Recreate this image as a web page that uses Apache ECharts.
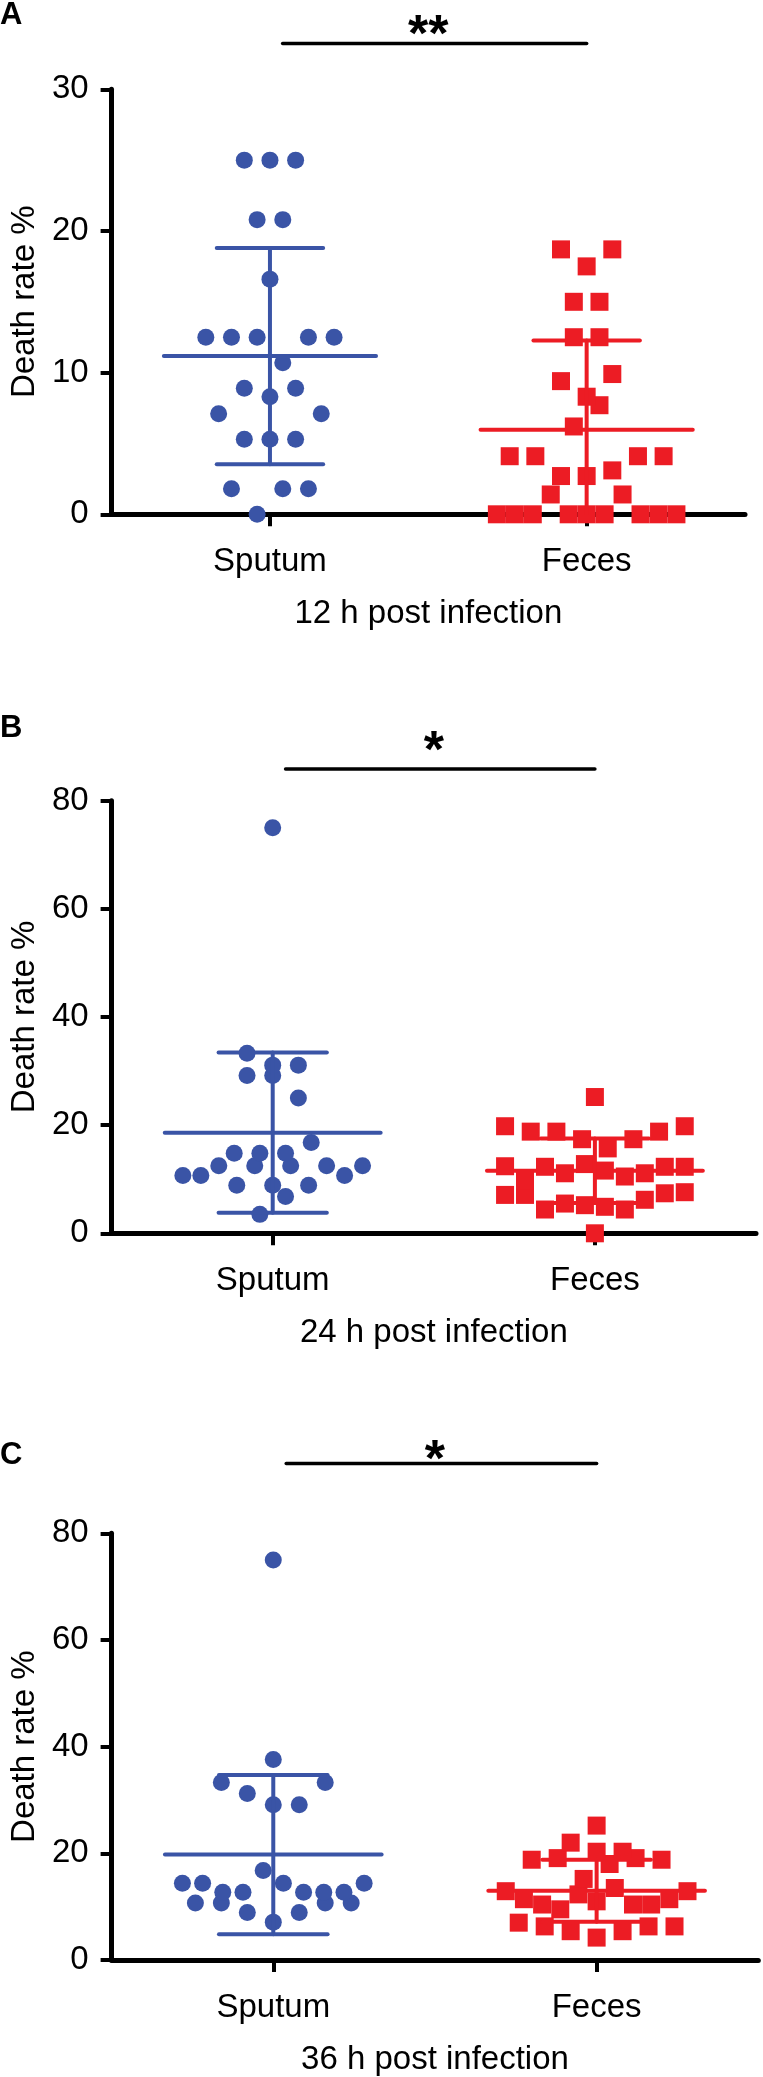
<!DOCTYPE html>
<html>
<head>
<meta charset="utf-8">
<script src="https://cdn.jsdelivr.net/npm/echarts@6/dist/echarts.min.js"></script>
<style>
html,body{margin:0;padding:0;background:#ffffff;}
#chart{width:763px;height:2077px;}
</style>
</head>
<body>
<div id="chart"></div>
<script>
// ---------------- DATA ----------------
const categories = ['Sputum', 'Feces'];
const panelLetters = ['A', 'B', 'C'];
const timeLabels = ['12 h post infection', '24 h post infection', '36 h post infection'];
const significance = ['**', '*', '*'];
const yAxisName = 'Death rate %';
const yMaxValues = [30, 80, 80];
const yIntervals = [10, 20, 20];

// Death rate % per sample (order inside each row = left-to-right in the dot plot)
const sputum12h = [25, 25, 25, 20.8, 20.8, 16.6, 12.5, 12.5, 12.5, 10.7, 12.5, 12.5,
  8.9, 8.3, 8.9, 7.1, 5.3, 5.3, 5.3, 7.1, 1.8, 0, 1.8, 1.8];
const feces12h = [18.7, 17.5, 18.7, 15, 15, 12.5, 12.5, 9.4, 8.3, 9.9, 6.2, 7.7,
  4.1, 4.1, 2.7, 2.7, 3.1, 4.1, 4.1, 0, 0, 0, 1.4, 0, 0, 0, 1.4, 0, 0, 0];

const sputum24h = [75, 29.2, 33.3, 31.1, 31.1, 29.2, 25, 14.8, 14.8, 14.8, 16.8,
  10.7, 10.7, 12.5, 8.9, 12.5, 8.9, 12.5, 8.9, 12.5, 10.7, 12.5, 3.5, 6.8];
const feces24h = [25.2, 19.8, 18.8, 18.8, 17.4, 15.7, 17.4, 18.8, 19.8,
  12.4, 9.7, 12.3, 11.1, 12.8, 11.6, 10.5, 11.1, 12.3, 12.3,
  7.1, 7.1, 4.4, 5.5, 5.2, 4.9, 4.4, 6.2, 7.4, 7.6, 0];

const sputum36h = [75, 37.6, 33.3, 31.2, 29.1, 29.1, 33.3,
  14.4, 14.4, 12.7, 12.7, 16.8, 14.4, 12.7, 12.7, 12.7, 14.4,
  10.7, 10.7, 8.9, 7.1, 8.9, 10.7, 10.7];
const feces36h = [25.2, 22.0, 20.3, 20.3, 18.8, 19.1, 15.2, 18.0, 19.1, 18.8,
  12.9, 11.4, 10.4, 9.5, 12.3, 11.0, 13.5, 10.4, 10.4, 11.4, 12.9,
  7.0, 6.3, 5.4, 4.2, 5.4, 6.3, 6.3];

const panelData = [[sputum12h, feces12h], [sputum24h, feces24h], [sputum36h, feces36h]];

// ---------------- LAYOUT / STYLE ----------------
const BLUE = '#3a54a6';
const RED = '#ec1c24';
const FONT = "'Liberation Sans', Arial, Helvetica, sans-serif";
const grids = [
  { left: 103, top: 89.3, right: 18, height: 425 },
  { left: 103.3, top: 800.7, right: 7, height: 432.6 },
  { left: 110.7, top: 1533.3, right: 4.7, height: 429 }
];
const binPx = [27, 23, 23];      // row height for the dot-plot layout (px)
const pitchPx = 26;              // horizontal spacing of dots (px)
const maxHalfSlots = 3.5;        // widest row, in dot pitches from centre
const meanHalf = 0.335, capHalf = 0.168; // in category-spacing units
const sigLine = [ {y: 43.6, starY: 37}, {y: 769, starY: 753}, {y: 1463.6, starY: 1462} ];
const letterTop = [0, 713, 1440];

// ---------------- helpers ----------------
function mean(a) { return a.reduce((s, v) => s + v, 0) / a.length; }
function sd(a) { const m = mean(a); return Math.sqrt(a.reduce((s, v) => s + (v - m) * (v - m), 0) / (a.length - 1)); }

// Prism-like scatter dot layout: bins rows bottom-up, spreads members by array order
function dotLayout(values, centre, yMax, gridH, gridW, bin) {
  const binH = bin * yMax / gridH;
  const pitch = pitchPx / (gridW / 2);
  const order = values.map((v, i) => i).sort((a, b) => values[a] - values[b] || a - b);
  const bins = [];
  let cur = null;
  order.forEach(i => {
    if (!cur || values[i] - cur.start > binH + 1e-9) { cur = { start: values[i], members: [] }; bins.push(cur); }
    cur.members.push(i);
  });
  const pts = [];
  bins.forEach(b => {
    const m = b.members.slice().sort((x, y) => x - y);
    const n = m.length;
    let step = 1;
    if ((n - 1) / 2 > maxHalfSlots) step = 2 * maxHalfSlots / (n - 1);
    m.forEach((i, k) => pts.push([centre + (k - (n - 1) / 2) * step * pitch, values[i]]));
  });
  return pts;
}

const W = 763;
const xAxes = [], yAxes = [], gridOpts = [], series = [];
grids.forEach((g, p) => {
  const gridW = W - g.left - g.right;
  gridOpts.push({ left: g.left, top: g.top, right: g.right, height: g.height, containLabel: false });
  xAxes.push({
    type: 'category', gridIndex: p, data: categories, boundaryGap: true,
    axisLine: { show: true, lineStyle: { color: '#000', width: 5 } },
    axisTick: { show: true, alignWithLabel: true, length: 12, lineStyle: { color: '#000', width: 4 } },
    axisLabel: { fontSize: 33, color: '#000', fontFamily: FONT, margin: 31 },
    splitLine: { show: false },
    name: timeLabels[p], nameLocation: 'middle', nameGap: 83,
    nameTextStyle: { fontSize: 33, color: '#000', fontFamily: FONT }
  });
  xAxes.push({ type: 'value', gridIndex: p, min: 0, max: 2, show: false });
  yAxes.push({
    type: 'value', gridIndex: p, min: 0, max: yMaxValues[p], interval: yIntervals[p],
    axisLine: { show: true, lineStyle: { color: '#000', width: 5 } },
    axisTick: { show: true, length: 11, lineStyle: { color: '#000', width: 4 } },
    axisLabel: { fontSize: 33, color: '#000', fontFamily: FONT, margin: 23 },
    splitLine: { show: false },
    name: yAxisName, nameLocation: 'middle', nameGap: 68,
    nameTextStyle: { fontSize: 33, color: '#000', fontFamily: FONT }
  });
  const [sp, fe] = panelData[p];
  series.push({
    type: 'scatter', xAxisIndex: 2 * p + 1, yAxisIndex: p, symbol: 'circle', symbolSize: 17,
    itemStyle: { color: BLUE, opacity: 1 }, data: dotLayout(sp, 0.5, yMaxValues[p], g.height, gridW, binPx[p]), z: 3
  });
  series.push({
    type: 'scatter', xAxisIndex: 2 * p + 1, yAxisIndex: p, symbol: 'rect', symbolSize: 18,
    itemStyle: { color: RED, opacity: 1 }, data: dotLayout(fe, 1.5, yMaxValues[p], g.height, gridW, binPx[p]), z: 3
  });
  series.push({
    type: 'custom', xAxisIndex: 2 * p + 1, yAxisIndex: p, clip: true, z: 4,
    data: [[0.5, mean(sp), sd(sp), 0], [1.5, mean(fe), sd(fe), 1]],
    renderItem: function (params, api) {
      const cx = api.value(0), m = api.value(1), s = api.value(2);
      const col = api.value(3) === 0 ? BLUE : RED;
      const segs = [
        [[cx - meanHalf, m], [cx + meanHalf, m]],
        [[cx, m - s], [cx, m + s]],
        [[cx - capHalf, m + s], [cx + capHalf, m + s]],
        [[cx - capHalf, m - s], [cx + capHalf, m - s]]
      ];
      return {
        type: 'group',
        children: segs.map(sg => {
          const a = api.coord(sg[0]), b = api.coord(sg[1]);
          return { type: 'line', shape: { x1: a[0], y1: a[1], x2: b[0], y2: b[1] },
                   style: { stroke: col, lineWidth: 4, lineCap: 'round' } };
        })
      };
    }
  });
});

const chart = echarts.init(document.getElementById('chart'), null, { renderer: 'canvas' });
chart.setOption({
  animation: false,
  backgroundColor: '#ffffff',
  grid: gridOpts, xAxis: xAxes, yAxis: yAxes, series: series
});

// annotations: panel letters and significance bars
const graphics = [];
grids.forEach((g, p) => {
  const x1 = chart.convertToPixel({ xAxisIndex: 2 * p + 1 }, 0.54);
  const x2 = chart.convertToPixel({ xAxisIndex: 2 * p + 1 }, 1.5);
  const xm = chart.convertToPixel({ xAxisIndex: 2 * p + 1 }, 1.0);
  graphics.push({ type: 'text', x: 0, y: letterTop[p],
    style: { text: panelLetters[p], fontSize: 31, fontWeight: 'bold', fontFamily: FONT, fill: '#000',
             align: 'left', verticalAlign: 'top' } });
  graphics.push({ type: 'line', shape: { x1: x1, y1: sigLine[p].y, x2: x2, y2: sigLine[p].y },
    style: { stroke: '#000', lineWidth: 3.5, lineCap: 'round' } });
  graphics.push({ type: 'text', x: xm, y: sigLine[p].starY,
    style: { text: significance[p], fontSize: 52, fontWeight: 'bold', fontFamily: FONT, fill: '#000',
             align: 'center', verticalAlign: 'middle' } });
});
chart.setOption({ graphic: graphics });
</script>
</body>
</html>
